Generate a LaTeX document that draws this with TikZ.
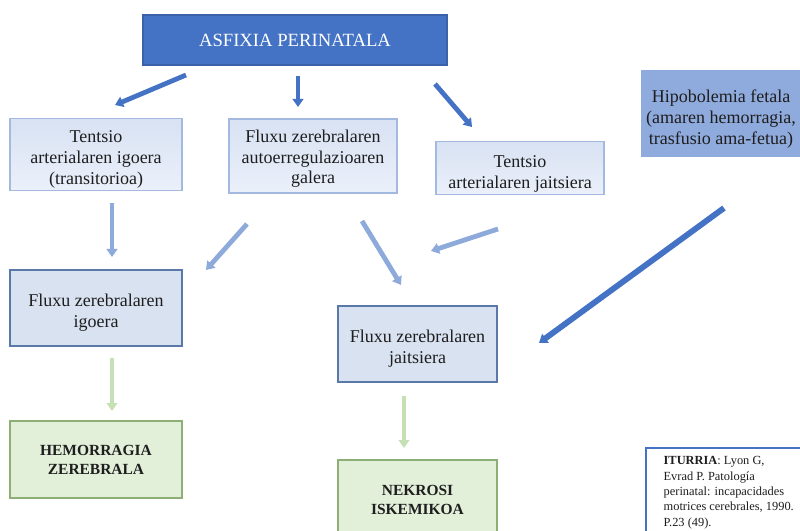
\documentclass[tikz,border=0pt]{standalone}
\usepackage{fontspec}
\setmainfont{Liberation Serif}
\usetikzlibrary{arrows.meta}

\definecolor{dkblue}{HTML}{4472C4}
\definecolor{dkblueedge}{HTML}{3A62A8}
\definecolor{ltarrow}{HTML}{8EAADB}
\definecolor{grarrow}{HTML}{C5E0B4}
\definecolor{palebluetop}{HTML}{D8E2F3}
\definecolor{palebluebot}{HTML}{EBF0FA}
\definecolor{paleedge}{HTML}{A3B9E0}
\definecolor{flowfill}{HTML}{D9E2F1}
\definecolor{slateedge}{HTML}{5A78A8}
\definecolor{midblue}{HTML}{8FAADC}
\definecolor{palegreen}{HTML}{E2EFD9}
\definecolor{greenedge}{HTML}{8DAE74}
\definecolor{inktext}{HTML}{1E1E1E}

% invisible strut that pushes a box's text a little lower
\newcommand\topgap[1]{\rule{0pt}{#1}}

\tikzset{
  basebox/.style={align=center, inner sep=2pt, text=inktext,
    font=\fontsize{13.5}{15.5}\selectfont},
  headbox/.style={basebox, fill=dkblue, draw=dkblueedge, line width=0.8pt,
    text=white, font=\fontsize{14}{16}\selectfont},
  causebox/.style={basebox, draw=paleedge, line width=0.8pt,
    top color=palebluetop, bottom color=palebluebot},
  sidebox/.style={basebox, fill=midblue, draw=none},
  flowbox/.style={basebox, fill=flowfill, draw=slateedge, line width=0.9pt},
  endbox/.style={basebox, fill=palegreen, draw=greenedge, line width=0.9pt,
    font=\fontsize{11.6}{14.3}\selectfont\bfseries},
  srcbox/.style={basebox, draw=dkblue, line width=1.6pt, fill=white,
    align=left, anchor=north west, inner xsep=11pt, inner ysep=6.5pt,
    font=\fontsize{9.3}{11.5}\selectfont},
  darrow/.style={draw=dkblue, line width=3.6pt,
    -{Triangle[length=6pt,width=8pt]}},
  larrow/.style={draw=ltarrow, line width=3.6pt,
    -{Triangle[length=6pt,width=8pt]}},
  garrow/.style={draw=grarrow, line width=3.6pt,
    -{Triangle[length=6pt,width=8pt]}},
}

\begin{document}
\begin{tikzpicture}[x=0.75pt, y=-0.75pt]
  \useasboundingbox (0,0) rectangle (800,531);
  \clip (0,0) rectangle (800,531);

  % boxes
  \node[headbox, minimum width=228pt, minimum height=37.5pt] (asf) at (295,40) {ASFIXIA PERINATALA};

  \node[causebox, minimum width=129pt, minimum height=53.25pt] (tai) at (96,154.5)
    {\topgap{16.5pt}Tentsio\\arterialaren igoera\\(transitorioa)};
  \node[causebox, minimum width=126pt, minimum height=55.5pt] (auto) at (313,156)
    {\topgap{13.5pt}Fluxu zerebralaren\\autoerregulazioaren\\galera};
  \node[causebox, minimum width=126pt, minimum height=37.5pt] (taj) at (520,168)
    {\topgap{18pt}Tentsio\\arterialaren jaitsiera};
  \node[sidebox, minimum width=120pt, minimum height=65.25pt] (hipo) at (721,113.5)
    {\topgap{18pt}Hipobolemia fetala\\(amaren hemorragia,\\trasfusio ama-fetua)};

  \node[flowbox, minimum width=129pt, minimum height=57pt] (fzi) at (96,308)
    {\topgap{16.5pt}Fluxu zerebralaren\\igoera};
  \node[flowbox, minimum width=119.25pt, minimum height=57pt] (fzj) at (417.5,344)
    {\topgap{16.5pt}Fluxu zerebralaren\\jaitsiera};

  \node[endbox, minimum width=129pt, minimum height=57.75pt] (hem) at (96,459.5)
    {HEMORRAGIA\\ZEREBRALA};
  \node[endbox, minimum width=119.25pt, minimum height=60pt] (nek) at (417.5,500)
    {NEKROSI\\ISKEMIKOA};

  \node[srcbox, minimum width=124pt] (src) at (645,447)
    {\textbf{ITURRIA}: Lyon G,\\Evrad P. Patología\\perinatal: incapacidades\\motrices cerebrales, 1990.\\P.23 (49).};

  % arrow end points
  \coordinate (a1s) at (186,75);  \coordinate (a1e) at (115,105);
  \coordinate (a2s) at (298,76);  \coordinate (a2e) at (298,107);
  \coordinate (a3s) at (435,84);  \coordinate (a3e) at (472,127);
  \coordinate (b1s) at (112,203); \coordinate (b1e) at (112,257);
  \coordinate (b2s) at (247,224); \coordinate (b2e) at (206,270);
  \coordinate (b3s) at (362,221); \coordinate (b3e) at (401,285);
  \coordinate (b4s) at (498,229); \coordinate (b4e) at (431,251);
  \coordinate (hs)  at (724,208); \coordinate (he)  at (539,343);
  \coordinate (c1s) at (112,358); \coordinate (c1e) at (112,411);
  \coordinate (c2s) at (404,396); \coordinate (c2e) at (404,448);

  % connectors
  \draw[darrow] (a1s) -- (a1e);
  \draw[darrow] (a2s) -- (a2e);
  \draw[darrow] (a3s) -- (a3e);
  \draw[larrow] (b1s) -- (b1e);
  \draw[larrow] (b2s) -- (b2e);
  \draw[larrow] (b3s) -- (b3e);
  \draw[larrow] (b4s) -- (b4e);
  \draw[darrow, line width=4.4pt] (hs) -- (he);
  \draw[garrow] (c1s) -- (c1e);
  \draw[garrow] (c2s) -- (c2e);
\end{tikzpicture}
\end{document}
